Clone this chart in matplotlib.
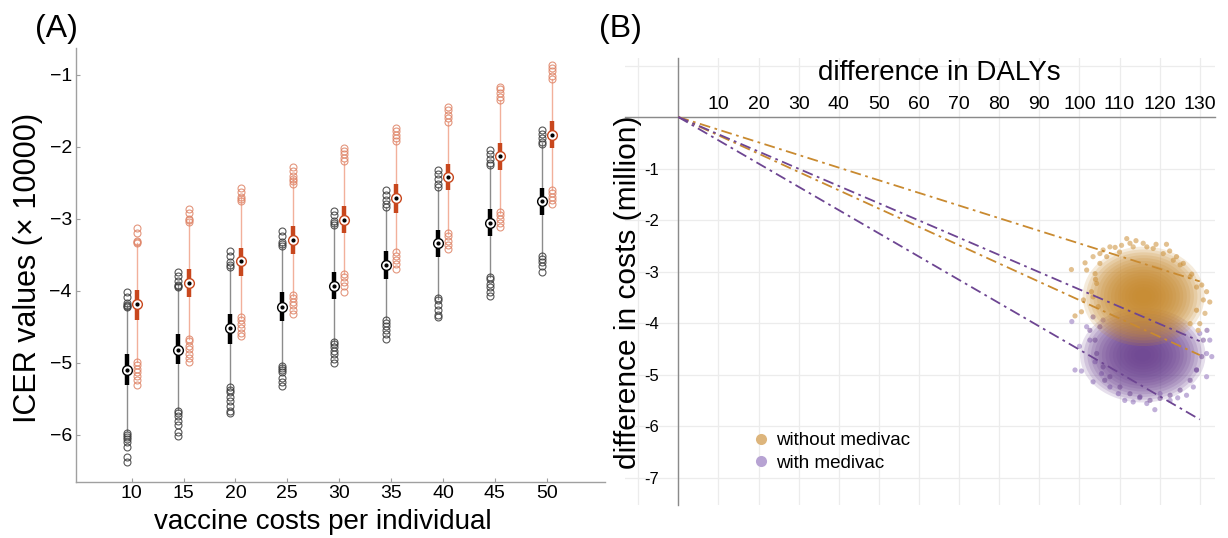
import matplotlib
matplotlib.use('Agg')
import matplotlib.pyplot as plt
from matplotlib.patches import Ellipse
from matplotlib.lines import Line2D
import numpy as np

plt.rcParams['font.family'] = ['Liberation Sans', 'DejaVu Sans']

# ---------------- panel A data (ICER x 10000) ----------------
costs = [10, 15, 20, 25, 30, 35, 40, 45, 50]

# black group
lo_k  = [-5.95, -5.65, -5.35, -5.05, -4.72, -4.39, -4.11, -3.81, -3.51]
q1_k  = [-5.31, -5.01, -4.73, -4.42, -4.11, -3.83, -3.53, -3.23, -2.94]
med_k = [-5.10, -4.82, -4.52, -4.22, -3.93, -3.64, -3.34, -3.05, -2.75]
q3_k  = [-4.87, -4.60, -4.32, -4.02, -3.73, -3.44, -3.15, -2.86, -2.57]
hi_k  = [-4.19, -3.90, -3.65, -3.36, -3.07, -2.84, -2.56, -2.26, -1.95]
top_out_k = [[-4.01, -4.09, -4.17, -4.19, -4.21, -4.22],
             [-3.73, -3.79, -3.86, -3.91, -3.93, -3.95],
             [-3.45, -3.51, -3.60, -3.64, -3.66],
             [-3.17, -3.23, -3.32, -3.35, -3.38],
             [-2.89, -2.95, -3.03, -3.06, -3.08],
             [-2.60, -2.66, -2.74, -2.79, -2.83],
             [-2.32, -2.38, -2.45, -2.51, -2.55],
             [-2.04, -2.10, -2.16, -2.22, -2.25],
             [-1.76, -1.82, -1.88, -1.93, -1.96]]
bot_out_k = [[-5.97, -6.00, -6.03, -6.06, -6.10, -6.16, -6.30, -6.37],
             [-5.66, -5.69, -5.73, -5.80, -5.86, -5.96, -6.02],
             [-5.34, -5.37, -5.40, -5.47, -5.53, -5.60, -5.66, -5.70],
             [-5.04, -5.07, -5.10, -5.13, -5.21, -5.26, -5.32],
             [-4.71, -4.74, -4.78, -4.83, -4.88, -4.95, -5.00],
             [-4.40, -4.44, -4.49, -4.54, -4.60, -4.67],
             [-4.10, -4.13, -4.20, -4.26, -4.33, -4.36],
             [-3.80, -3.83, -3.90, -3.95, -4.01, -4.07],
             [-3.51, -3.55, -3.60, -3.65, -3.73]]

# orange group
lo_o  = [-4.99, -4.67, -4.37, -4.07, -3.77, -3.46, -3.21, -2.91, -2.60]
q1_o  = [-4.40, -4.09, -3.79, -3.49, -3.20, -2.91, -2.60, -2.32, -2.01]
med_o = [-4.18, -3.89, -3.59, -3.29, -3.01, -2.71, -2.42, -2.13, -1.83]
q3_o  = [-3.98, -3.70, -3.40, -3.10, -2.82, -2.52, -2.23, -1.94, -1.64]
hi_o  = [-3.33, -3.02, -2.70, -2.42, -2.21, -1.91, -1.65, -1.35, -1.05]
top_out_o = [[-3.13, -3.20, -3.30, -3.32, -3.34],
             [-2.86, -2.92, -3.00, -3.02, -3.04],
             [-2.57, -2.62, -2.69, -2.72, -2.75],
             [-2.28, -2.33, -2.40, -2.44, -2.47, -2.51],
             [-2.01, -2.06, -2.10, -2.15, -2.20],
             [-1.73, -1.78, -1.83, -1.88, -1.92],
             [-1.44, -1.49, -1.55, -1.60, -1.65],
             [-1.16, -1.20, -1.25, -1.31, -1.35],
             [-0.86, -0.90, -0.95, -1.01, -1.05]]
bot_out_o = [[-4.99, -5.03, -5.08, -5.12, -5.18, -5.24, -5.31],
             [-4.66, -4.70, -4.76, -4.81, -4.88, -4.93, -4.98],
             [-4.36, -4.40, -4.46, -4.52, -4.58, -4.63],
             [-4.06, -4.10, -4.15, -4.20, -4.26, -4.32],
             [-3.77, -3.81, -3.87, -3.93, -4.01],
             [-3.46, -3.51, -3.57, -3.63, -3.70],
             [-3.20, -3.24, -3.30, -3.36, -3.42],
             [-2.90, -2.95, -3.00, -3.05, -3.11],
             [-2.60, -2.64, -2.69, -2.74, -2.79]]

# ---------------- panel B data ----------------
# rays from origin: end point (DALYs, cost in million)
ray_daly = [130, 130, 130, 130]
ray_cost = [-3.19, -4.62, -4.35, -5.87]
ray_group = [0, 0, 1, 1]

# cloud summary (centre / spread) for the dense core
cloud_daly = [116.0, 115.8]
cloud_cost = [-3.48, -4.62]
cloud_sdx = [6.6, 6.8]
cloud_sdy = [0.42, 0.40]

# scattered outer points (without medivac)
out_daly_w = [111.8, 114.1, 121.7, 119.1, 108.9, 98.0, 101.4, 101.8, 105.1, 132.5,
              131.7, 130.5, 129.2, 98.9, 100.5, 101.0, 125.9, 124.2, 106.8, 116.8,
              127.6, 129.6, 103.0, 112.6, 110.0, 122.5, 128.0, 104.0]
out_cost_w = [-2.36, -2.40, -2.47, -2.47, -2.53, -2.96, -2.83, -2.97, -2.65, -3.59,
              -3.39, -3.26, -3.75, -3.86, -3.78, -3.55, -2.84, -2.71, -2.71, -2.52,
              -4.01, -4.14, -3.39, -2.45, -2.62, -2.60, -3.05, -3.15]
ring_daly_w = [103.4, 105.1, 103.9, 105.9, 107.6, 110.5, 113.4, 115.9, 118.4, 120.9,
               123.4, 125.1, 127.6, 129.2, 130.9, 131.3, 130.0, 104.3, 103.4, 104.7]
ring_cost_w = [-2.71, -2.84, -3.04, -2.58, -2.52, -2.49, -2.52, -2.45, -2.55, -2.65,
               -2.78, -2.87, -3.10, -3.30, -3.55, -3.81, -4.01, -3.23, -3.49, -3.68]

# with medivac
out_daly_m = [98.9, 100.5, 103.4, 105.5, 109.7, 111.3, 113.4, 118.8, 116.8, 122.6,
              126.7, 131.7, 133.0, 131.7, 132.5, 98.1, 101.8, 102.6, 103.9, 129.2,
              128.4, 120.1, 107.6, 105.9, 124.5, 115.0, 100.0, 130.0]
out_cost_m = [-4.91, -4.93, -5.14, -4.98, -5.37, -5.50, -5.53, -5.68, -5.56, -5.50,
              -5.40, -5.04, -4.65, -4.59, -4.33, -3.97, -4.07, -4.33, -4.75, -4.91,
              -5.24, -5.37, -5.24, -3.94, -5.45, -5.45, -4.45, -4.20]
ring_daly_m = [103.4, 105.1, 103.9, 104.3, 105.9, 107.6, 110.1, 112.6, 115.1, 117.6,
               120.1, 122.6, 125.1, 127.6, 129.2, 130.5, 130.9, 131.8, 102.6, 106.3]
ring_cost_m = [-3.88, -4.07, -4.33, -4.59, -4.85, -5.04, -5.24, -5.37, -5.43, -5.50,
               -5.46, -5.40, -5.30, -5.11, -4.91, -4.65, -4.33, -4.14, -4.14, -5.11]

group_labels = ['without medivac', 'with medivac']

# ---------------- figure ----------------
W, H = 1228, 538
fig = plt.figure(figsize=(W / 100, H / 100), dpi=100)

axA = fig.add_axes([76 / W, 1 - 482 / H, (605 - 76) / W, (482 - 48) / H])
axB = fig.add_axes([625 / W, 1 - 505 / H, (1215 - 625) / W, (505 - 58) / H])


def draw_box(ax, x, lo, q1, med, q3, hi, tops, bots, wcol, bcol, ocol, mcol):
    ax.plot([x, x], [lo, hi], color=wcol, lw=1.0, zorder=1)
    ax.plot([x, x], [q1, q3], color=bcol, lw=3.2, solid_capstyle='butt', zorder=2)
    outs = tops + bots
    ax.plot([x] * len(outs), outs, 'o', ms=5, mfc='none', mec=ocol, mew=0.8,
            alpha=0.85, zorder=3)
    ax.plot(x, med, 'o', ms=7, mfc='white', mec=mcol, mew=1.0, zorder=4)
    ax.plot(x, med, 'o', ms=2.0, color='black', zorder=5)


off = 0.5
for i, c in enumerate(costs):
    draw_box(axA, c - off, lo_k[i], q1_k[i], med_k[i], q3_k[i], hi_k[i],
             top_out_k[i], bot_out_k[i], '#8c8c8c', 'black', '#3a3a3a', 'black')
    draw_box(axA, c + off, lo_o[i], q1_o[i], med_o[i], q3_o[i], hi_o[i],
             top_out_o[i], bot_out_o[i], '#f2b09b', '#c8471d', '#df8467', '#c8471d')

axA.set_xlim(4.63, 55.62)
axA.set_ylim(-6.653, -0.625)
axA.set_xticks(costs)
axA.set_xticklabels([str(c) for c in costs])
axA.set_yticks([-6, -5, -4, -3, -2, -1])
axA.set_yticklabels(['\u22126', '\u22125', '\u22124', '\u22123', '\u22122', '\u22121'])
for s in ['top', 'right']:
    axA.spines[s].set_visible(False)
for s in ['left', 'bottom']:
    axA.spines[s].set_color('#a0a0a0')
    axA.spines[s].set_linewidth(1.0)
axA.tick_params(axis='both', direction='in', length=3, color='#a0a0a0', width=0.8)
axA.tick_params(axis='x', labelsize=14, pad=2)
axA.tick_params(axis='y', labelsize=14, pad=3)

fig.text(28 / W, 1 - 268 / H, 'ICER values (\u00d7 10000)', rotation=90,
         ha='center', va='center', fontsize=22)
fig.text(323 / W, 1 - 522 / H, 'vaccine costs per individual',
         ha='center', va='center', fontsize=20)
fig.text(56 / W, 1 - 29 / H, '(A)', ha='center', va='center', fontsize=23)
fig.text(620 / W, 1 - 29 / H, '(B)', ha='center', va='center', fontsize=23)

# ---- panel B ----
core_cols = ['#c88a2e', '#6c4391']
edge_cols = ['#ddb57c', '#b7a3d3']
ray_cols = ['#c98a30', '#6d4592']

axB.set_xlim(-13.3, 133.8)
axB.set_ylim(-7.53, 1.146)
axB.set_axisbelow(True)
axB.grid(True, color='#ececec', lw=0.9)

ring = {0: (ring_daly_w, ring_cost_w, out_daly_w, out_cost_w),
        1: (ring_daly_m, ring_cost_m, out_daly_m, out_cost_m)}

# clouds: purple first, orange on top
for g in [1, 0]:
    rx, ry, ox, oy = ring[g]
    axB.scatter(ox, oy, s=14, color=edge_cols[g], alpha=0.85,
                edgecolors='none', zorder=2)
    axB.scatter(rx, ry, s=14, color=core_cols[g], alpha=0.5,
                edgecolors='none', zorder=2)
    for k in np.linspace(2.3, 0.3, 16):
        axB.add_patch(Ellipse((cloud_daly[g], cloud_cost[g]), 2 * k * cloud_sdx[g],
                              2 * k * cloud_sdy[g], facecolor=core_cols[g],
                              edgecolor='none', alpha=0.17, zorder=2))

for i in range(len(ray_daly)):
    axB.plot([0, ray_daly[i]], [0, ray_cost[i]], color=ray_cols[ray_group[i]],
             lw=1.3, ls=(0, (6, 2.5, 1.5, 2.5)), zorder=4)

axB.spines['left'].set_position(('data', 0))
axB.spines['top'].set_position(('data', 0))
axB.spines['bottom'].set_visible(False)
axB.spines['right'].set_visible(False)
for s in ['left', 'top']:
    axB.spines[s].set_color('#8a8a8a')
    axB.spines[s].set_linewidth(1.0)
axB.xaxis.tick_top()
xt = list(range(-10, 131, 10))
axB.set_xticks(xt)
axB.set_xticklabels([str(v) if v > 0 else '' for v in xt])
yt = list(range(-7, 2))
axB.set_yticks(yt)
axB.set_yticklabels(['-' + str(-v) if v < 0 else '' for v in yt])
axB.tick_params(axis='x', length=0, pad=3, labelsize=14)
axB.tick_params(axis='y', length=0, pad=14, labelsize=12)

fig.text(939 / W, 1 - 73 / H, 'difference in DALYs', ha='center', va='center',
         fontsize=20)
fig.text(628 / W, 1 - 292 / H, 'difference in costs (million)', rotation=90,
         ha='center', va='center', fontsize=21.5)

handles = [Line2D([], [], ls='', marker='o', ms=8, mfc=edge_cols[g], mec='none')
           for g in range(2)]
axB.legend(handles, group_labels, loc='upper left', bbox_to_anchor=(0.2146, 0.163),
           frameon=False, fontsize=13.5, handlelength=1.0, handletextpad=0.3,
           labelspacing=0.3, borderpad=0, borderaxespad=0)

fig.savefig('out.png', dpi=100)
